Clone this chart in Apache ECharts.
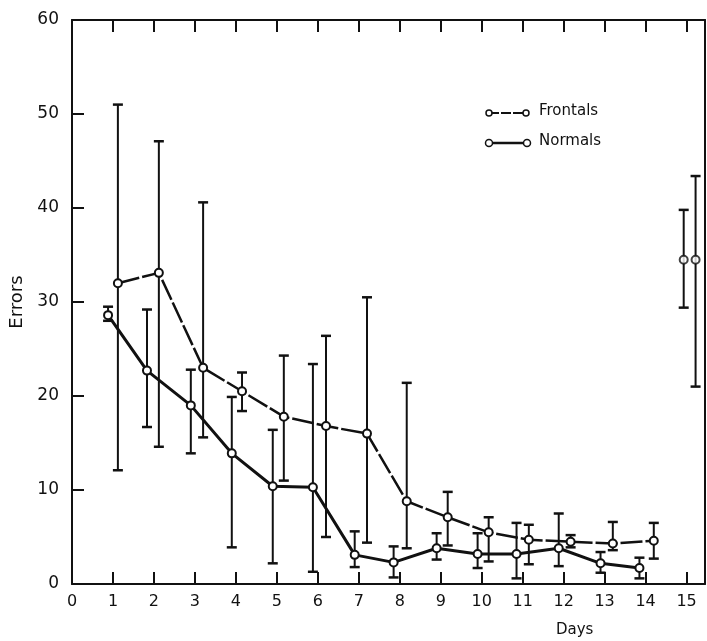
<!DOCTYPE html>
<html>
<head>
<meta charset="utf-8">
<script src="https://cdn.jsdelivr.net/npm/echarts@6/dist/echarts.min.js"></script>
<style>
  html, body { margin: 0; padding: 0; background: #fff; }
  #chart { width: 707px; height: 641px; }
</style>
</head>
<body>
<div id="chart"></div>
<script>
// Frontals: days 1-14 joined by a line, day 15 plotted on its own
const frontDays = [1.12, 2.12, 3.2, 4.15, 5.17, 6.2, 7.2, 8.17, 9.17, 10.17, 11.15, 12.17, 13.2, 14.2]
const frontMean = [32.0, 33.1, 23.0, 20.5, 17.8, 16.8, 16.0, 8.8, 7.1, 5.5, 4.7, 4.5, 4.3, 4.6]
const frontLow = [12.1, 14.6, 15.6, 18.4, 11.0, 5.0, 4.4, 3.8, 4.1, 2.4, 2.1, 3.9, 3.6, 2.7]
const frontHigh = [51.0, 47.1, 40.6, 22.5, 24.3, 26.4, 30.5, 21.4, 9.8, 7.1, 6.3, 5.2, 6.6, 6.5]
const front15 = [15.22, 34.5, 21.0, 43.4]

// Normals
const normDays = [0.88, 1.83, 2.9, 3.9, 4.9, 5.88, 6.9, 7.85, 8.9, 9.9, 10.85, 11.88, 12.9, 13.85]
const normMean = [28.6, 22.7, 19.0, 13.9, 10.4, 10.3, 3.1, 2.3, 3.8, 3.2, 3.2, 3.8, 2.2, 1.7]
const normLow = [28.0, 16.7, 13.9, 3.9, 2.2, 1.3, 1.8, 0.7, 2.6, 1.7, 0.6, 1.9, 1.2, 0.6]
const normHigh = [29.5, 29.2, 22.8, 19.9, 16.4, 23.4, 5.6, 4.0, 5.4, 5.4, 6.5, 7.5, 3.4, 2.8]
const norm15 = [14.93, 34.5, 29.4, 39.8]

const yTicks = [0, 10, 20, 30, 40, 50, 60]

const ink = '#111'
const font = 'DejaVu Sans'

function points(days, mean) {
  return days.map((d, i) => [d, mean[i]])
}
function bars(days, low, high) {
  return days.map((d, i) => [d, low[i], high[i]])
}

function renderBar(params, api) {
  const x = api.value(0)
  const top = api.coord([x, api.value(2)])
  const bot = api.coord([x, api.value(1)])
  const w = 5
  const style = { stroke: ink, lineWidth: 2 }
  return {
    type: 'group',
    children: [
      { type: 'line', shape: { x1: top[0], y1: top[1], x2: bot[0], y2: bot[1] }, style },
      { type: 'line', shape: { x1: top[0] - w, y1: top[1], x2: top[0] + w, y2: top[1] }, style: { stroke: ink, lineWidth: 2.5 } },
      { type: 'line', shape: { x1: bot[0] - w, y1: bot[1], x2: bot[0] + w, y2: bot[1] }, style: { stroke: ink, lineWidth: 2.5 } },
    ],
  }
}

const symbolStyle = { color: '#fff', borderColor: ink, borderWidth: 2 }

const chart = echarts.init(document.getElementById('chart'))
chart.setOption({
  animation: false,
  backgroundColor: '#fff',
  grid: { left: 72, top: 20, right: 2, bottom: 57, outerBoundsMode: 'none' },
  xAxis: [
    {
      type: 'value', min: 0, max: 15.45, interval: 1,
      axisLine: { lineStyle: { color: ink, width: 2 } },
      axisTick: { inside: true, length: 12, lineStyle: { color: ink, width: 2 } },
      axisLabel: {
        color: ink, fontFamily: font, fontSize: 16, margin: 10, showMaxLabel: false,
        formatter: (v) => (Number.isInteger(v) ? String(v) : ''),
      },
      splitLine: { show: false },
    },
    {
      type: 'value', min: 0, max: 15.45, interval: 1, position: 'top',
      axisLine: { show: true, onZero: false, lineStyle: { color: ink, width: 2 } },
      axisTick: { inside: true, length: 12, lineStyle: { color: ink, width: 2 } },
      axisLabel: { show: false },
      splitLine: { show: false },
    },
  ],
  yAxis: [
    {
      type: 'value', min: yTicks[0], max: yTicks[yTicks.length - 1], interval: 10,
      name: 'Errors', nameLocation: 'middle', nameGap: 44, nameRotate: 90,
      nameTextStyle: { color: ink, fontFamily: font, fontSize: 18 },
      axisLine: { show: true, lineStyle: { color: ink, width: 2 } },
      axisTick: { inside: true, length: 12, lineStyle: { color: ink, width: 2 } },
      axisLabel: { color: ink, fontFamily: font, fontSize: 17, margin: 13 },
      splitLine: { show: false },
    },
    {
      type: 'value', min: 0, max: 60, interval: 10, position: 'right',
      axisLine: { show: true, onZero: false, lineStyle: { color: ink, width: 2 } },
      axisTick: { show: false },
      axisLabel: { show: false },
      splitLine: { show: false },
    },
  ],
  series: [
    {
      name: 'Frontals bars', type: 'custom', renderItem: renderBar, z: 1,
      data: bars(frontDays.concat([front15[0]]), frontLow.concat([front15[2]]), frontHigh.concat([front15[3]])),
    },
    {
      name: 'Normals bars', type: 'custom', renderItem: renderBar, z: 1,
      data: bars(normDays.concat([norm15[0]]), normLow.concat([norm15[2]]), normHigh.concat([norm15[3]])),
    },
    {
      name: 'Frontals', type: 'line', z: 3,
      data: points(frontDays, frontMean),
      symbol: 'circle', symbolSize: 8, itemStyle: symbolStyle,
      lineStyle: { color: ink, width: 2.5, type: [22, 3] },
    },
    {
      name: 'Normals', type: 'line', z: 3,
      data: points(normDays, normMean),
      symbol: 'circle', symbolSize: 8, itemStyle: symbolStyle,
      lineStyle: { color: ink, width: 3 },
    },
    {
      name: 'Day 15', type: 'scatter', z: 3,
      data: [[front15[0], front15[1]], [norm15[0], norm15[1]]],
      symbol: 'circle', symbolSize: 8, itemStyle: symbolStyle,
    },
  ],
  graphic: [
    // legend drawn by hand: circle - line - circle, then the label
    { type: 'line', shape: { x1: 489, y1: 113, x2: 524, y2: 113 }, style: { stroke: ink, lineWidth: 2, lineDash: [10, 2] } },
    { type: 'circle', shape: { cx: 489, cy: 113, r: 3 }, style: { fill: '#fff', stroke: ink, lineWidth: 1.5 } },
    { type: 'circle', shape: { cx: 526, cy: 113, r: 3 }, style: { fill: '#fff', stroke: ink, lineWidth: 1.5 } },
    { type: 'text', left: 539, top: 104, style: { text: 'Frontals', fill: ink, font: '15px ' + font } },
    { type: 'line', shape: { x1: 489, y1: 143, x2: 526, y2: 143 }, style: { stroke: ink, lineWidth: 2.5 } },
    { type: 'circle', shape: { cx: 489, cy: 143, r: 3.5 }, style: { fill: '#fff', stroke: ink, lineWidth: 1.5 } },
    { type: 'circle', shape: { cx: 527, cy: 143, r: 3.5 }, style: { fill: '#fff', stroke: ink, lineWidth: 1.5 } },
    { type: 'text', left: 539, top: 134, style: { text: 'Normals', fill: ink, font: '15px ' + font } },
    { type: 'text', left: 556, top: 623, style: { text: 'Days', fill: ink, font: '15px ' + font } },
  ],
})
</script>
</body>
</html>
